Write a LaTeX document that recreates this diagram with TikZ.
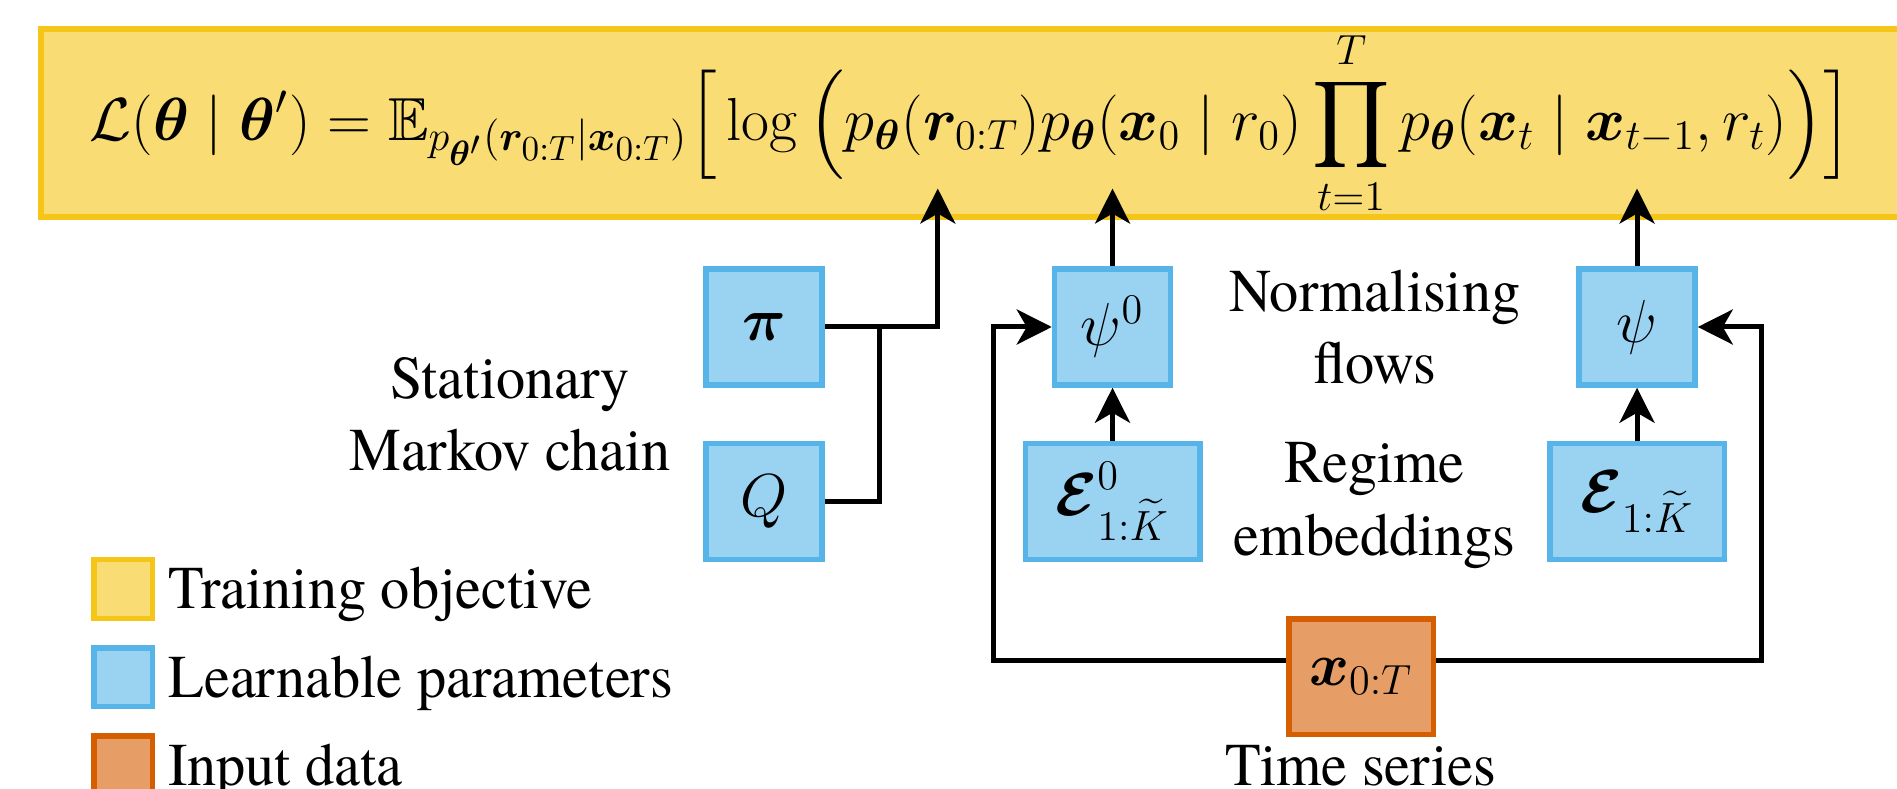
\RequirePackage{fix-cm}
\documentclass[tikz,border=0pt]{standalone}
\usepackage{amsmath,amssymb,bm}
\usepackage[no-math]{fontspec}
\setmainfont{TeX Gyre Termes}[FakeStretch=0.96]
\usetikzlibrary{arrows.meta,positioning,calc}
\definecolor{goal}{RGB}{245,198,24}
\definecolor{param}{RGB}{86,180,233}
\definecolor{data}{RGB}{213,94,0}
\tikzset{
  every picture/.style={color=black, line width=0.5mm, font=\fontsize{17.28}{20.6}\selectfont},
  box/.style={draw, line width=0.55mm, inner sep=0pt, minimum width=11.6mm, minimum height=11.6mm, align=center},
  parbox/.style={box, draw=param, fill=param!60},
  widebox/.style={parbox, minimum width=17.45mm},
  databox/.style={box, draw=data, fill=data!60, minimum width=14.45mm, minimum height=11.55mm},
  objbox/.style={box, draw=goal, fill=goal!60, minimum width=186mm, minimum height=17.4mm},
  key/.style={box, minimum width=5.85mm, minimum height=5.85mm},
  flow/.style={-{Stealth[length=3.5mm,width=3.5mm,inset=1mm]}, line width=0.5mm},
  wire/.style={line width=0.5mm},
  note/.style={align=center, inner sep=0pt},
  keytext/.style={inner sep=0pt, text height=4mm, text depth=0pt},
}

\begin{document}
\begin{tikzpicture}
  \useasboundingbox (0,0) rectangle (189.7mm,78.8mm);
  % objective
  \node[objbox] (obj) at (97.1mm,66.5mm) {$\displaystyle
    \mathcal{L}(\bm{\theta} \mid \bm{\theta}') =
    \mathbb{E}_{p_{\bm{\theta}'}(\bm{r}_{0:T} \mid \bm{x}_{0:T})}
    \Big[ \log \Big( p_{\bm{\theta}}(\bm{r}_{0:T}) p_{\bm{\theta}}(\bm{x}_0 \mid r_0)
    \prod_{t=1}^{T} p_{\bm{\theta}}(\bm{x}_t \mid \bm{x}_{t-1}, r_t) \Big) \Big]$};
  % parameters
  \node[parbox] (pi) at (76.4mm,46.1mm) {$\bm{\pi}$};
  \node[parbox, below=5.3mm of pi] (q) {$Q$};
  \node[parbox, right=22.7mm of pi] (psi0) {$\psi^0$};
  \node[widebox, below=5.3mm of psi0] (e0) {$\bm{\mathcal{E}}^0_{1:\widetilde{K}}$};
  \node[parbox, right=40.3mm of psi0] (psi) {$\psi$};
  \node[widebox, below=5.3mm of psi] (e1) {$\bm{\mathcal{E}}_{1:\widetilde{K}}$};
  \node[databox] (xs) at (136.1mm,11.15mm) {$\bm{x}_{0:T}$};
  % labels
  \node[note, anchor=east] (smc) at ($(pi.west)!0.5!(q.west)+(-3mm,0)$) {Stationary\\Markov chain};
  \node[note] (nf) at ($(psi0)!0.5!(psi)$) {Normalising\\flows};
  \node[note, yshift=-0.4mm] (re) at ($(e0)!0.5!(e1)$) {Regime\\embeddings};
  \node[note, below=0.6mm of xs] (ts) {Time series};
  % legend
  \node[key, draw=goal, fill=goal!60] (ky) at (12.3mm,19.9mm) {};
  \node[key, draw=param, fill=param!60, below=2.4mm of ky] (kb) {};
  \node[key, draw=data, fill=data!60, below=2.4mm of kb] (ko) {};
  \node[keytext, right=1.1mm of ky] {Training objective};
  \node[keytext, right=1.1mm of kb] {Learnable parameters};
  \node[keytext, right=1.1mm of ko] {Input data};
  % connectors
  \coordinate (r1) at ($(pi.east)+(11.3mm,0)$);
  \coordinate (j1) at ($(pi.east)+(5.5mm,0)$);
  \draw[wire] (q.east) -| (j1);
  \draw[flow, shorten >=-3.1mm] (pi.east) -- (r1) -- (r1 |- obj.south);
  \draw[flow, shorten >=-3.1mm] (psi0.north) -- (psi0.north |- obj.south);
  \draw[flow, shorten >=-3.1mm] (psi.north) -- (psi.north |- obj.south);
  \draw[flow] (e0.north) -- (psi0.south);
  \draw[flow] (e1.north) -- (psi.south);
  \coordinate (lp) at (99.3mm,12.8mm);
  \coordinate (rp) at (176.1mm,12.8mm);
  \draw[flow] (xs.west |- lp) -- (lp) |- (psi0.west);
  \draw[flow] (xs.east |- rp) -- (rp) |- (psi.east);
\end{tikzpicture}
\end{document}
